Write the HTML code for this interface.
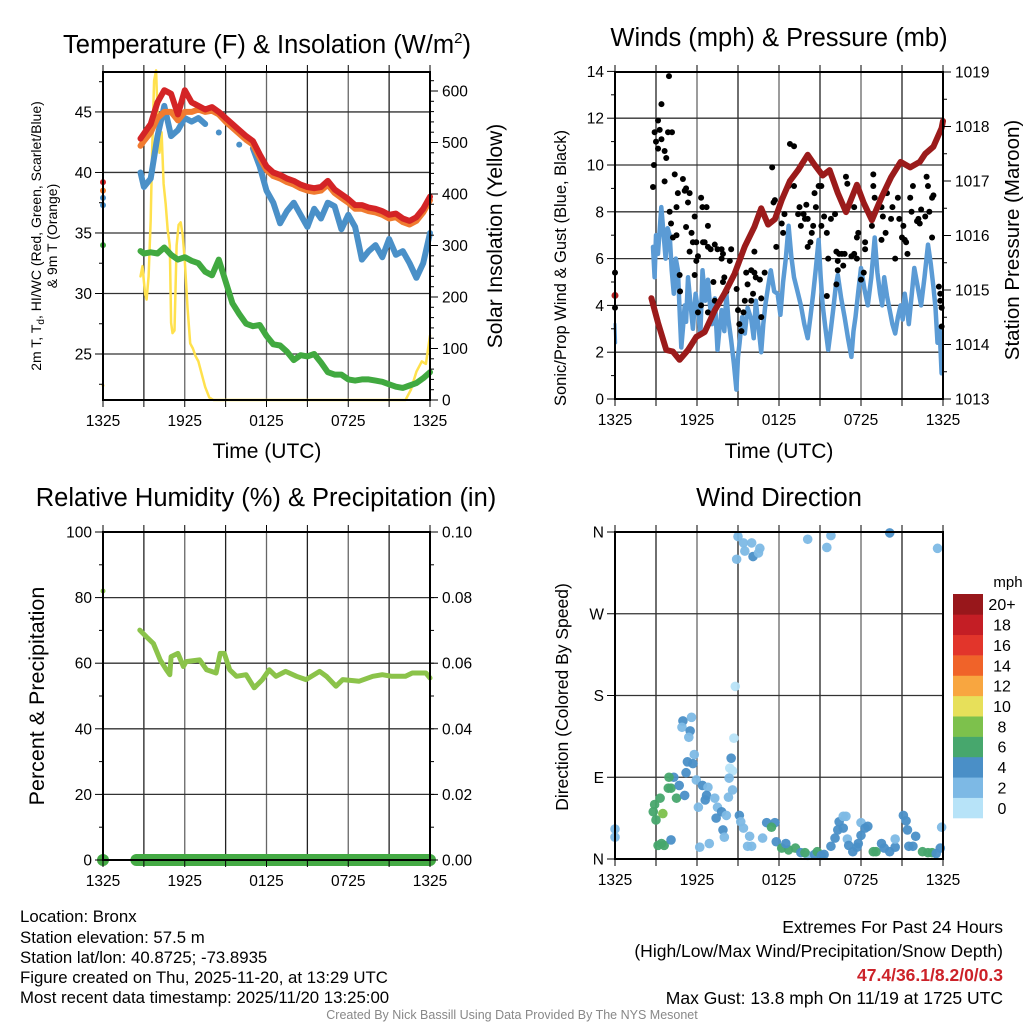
<!DOCTYPE html>
<html><head><meta charset="utf-8">
<style>
html,body{margin:0;padding:0;background:#fff;}
svg{display:block;font-family:"Liberation Sans",Arial,sans-serif;}
</style></head>
<body>
<svg id="chart" width="1024" height="1024" viewBox="0 0 1024 1024" xmlns="http://www.w3.org/2000/svg">
<rect width="1024" height="1024" fill="#fff"/>
<g id="grids"></g>
<g id="marks"></g>
<g id="axes"></g>
<g id="labels" fill="#000">
<text x="267" y="53" font-size="25.5" text-anchor="middle">Temperature (F) &amp; Insolation (W/m<tspan font-size="15" dy="-10">2</tspan><tspan dy="10">)</tspan></text>
<text x="779" y="46" font-size="25.5" text-anchor="middle">Winds (mph) &amp; Pressure (mb)</text>
<text x="266" y="506" font-size="25.5" text-anchor="middle">Relative Humidity (%) &amp; Precipitation (in)</text>
<text x="779" y="506" font-size="25.5" text-anchor="middle">Wind Direction</text>
<text x="267" y="458" font-size="21" text-anchor="middle">Time (UTC)</text>
<text x="779" y="458" font-size="21" text-anchor="middle">Time (UTC)</text>
<g font-size="14" text-anchor="middle">
<text transform="translate(41,236) rotate(-90)">2m T, T<tspan font-size="10" dy="3">d</tspan><tspan dy="-3">, HI/WC (Red, Green, Scarlet/Blue)</tspan></text>
<text transform="translate(57,236) rotate(-90)">&amp; 9m T (Orange)</text>
</g>
<text transform="translate(502,236) rotate(-90)" font-size="21" text-anchor="middle">Solar Insolation (Yellow)</text>
<text transform="translate(566,268) rotate(-90)" font-size="16.5" text-anchor="middle">Sonic/Prop Wind &amp; Gust (Blue, Black)</text>
<text transform="translate(1019,240) rotate(-90)" font-size="20.5" text-anchor="middle">Station Pressure (Maroon)</text>
<text transform="translate(44,696) rotate(-90)" font-size="21.5" text-anchor="middle">Percent &amp; Precipitation</text>
<text transform="translate(568,697) rotate(-90)" font-size="17.5" text-anchor="middle">Direction (Colored By Speed)</text>
<text x="1008" y="587" font-size="15" text-anchor="middle">mph</text>
<g font-size="16.8">
<text x="20" y="922">Location: Bronx</text>
<text x="20" y="943">Station elevation: 57.5 m</text>
<text x="20" y="963">Station lat/lon: 40.8725; -73.8935</text>
<text x="20" y="983">Figure created on Thu, 2025-11-20, at 13:29 UTC</text>
<text x="20" y="1003">Most recent data timestamp: 2025/11/20 13:25:00</text>
</g>
<g font-size="17.5" text-anchor="end">
<text x="1003" y="933">Extremes For Past 24 Hours</text>
<text x="1003" y="957">(High/Low/Max Wind/Precipitation/Snow Depth)</text>
<text x="1003" y="981" fill="#cc2229" font-weight="bold">47.4/36.1/8.2/0/0.3</text>
<text x="1003" y="1004">Max Gust: 13.8 mph On 11/19 at 1725 UTC</text>
</g>
<text x="512" y="1019" font-size="12.5" fill="#888" text-anchor="middle">Created By Nick Bassill Using Data Provided By The NYS Mesonet</text>
</g>
</svg>
<script>
// ---- data ----
const xTickLabels = ["1325","1925","0125","0725","1325"];
const tempTicks = [25,30,35,40,45];
const solarTicks = [0,100,200,300,400,500,600];
const windTicks = [0,2,4,6,8,10,12,14];
const presTicks = [1013,1014,1015,1016,1017,1018,1019];
const rhTicks = [0,20,40,60,80,100];
const precipTicks = ["0.00","0.02","0.04","0.06","0.08","0.10"];
const dirTickLabels = ["N","E","S","W","N"];
const cbLabels = ["0","2","4","6","8","10","12","14","16","18","20+"];
const cbColors = ["#b7e3f8","#7db9e5","#4a8fc7","#47a76d","#7dc14c","#e7e05a","#f8a640","#f06329","#e2352b","#c41e25","#98171b"];

const tT = [2.75,3,3.5,4,4.5,5,5.5,6,6.5,7,7.5,8,8.5,9,9.5,10,10.5,11,11.5,12,12.5,13,13.5,14,14.5,15,15.5,16,16.5,17,17.5,18,18.5,19,19.5,20,20.5,21,21.5,22,22.5,23,23.5,24];
const tempRed = [42.8,43.2,44,45.8,46.8,46.5,44.8,46.8,45.8,45.5,45.2,45.4,45,44.5,44,43.5,43,42.6,41.5,40.5,40,39.8,39.5,39.3,39,38.8,38.7,38.8,39.3,38.6,38.2,37.8,37.3,37.3,37.1,37,36.8,36.5,36.6,36.2,36,36.3,37,38];
const tempOrange = [42.2,42.6,43.3,44.5,45,45,44.3,45,45,45.2,45,45.1,44.8,44.2,43.7,43.2,42.7,42.3,41.2,40.2,39.7,39.5,39.2,39,38.7,38.5,38.4,38.5,39,38.3,37.9,37.5,37,37,36.8,36.7,36.5,36.2,36.3,35.9,35.7,36,36.7,37.7];
const tempBlue = [40,38.8,39.5,43,45.5,43,43.5,44.5,44.2,44.5,44,null,43.3,null,null,42.3,null,42,40.5,38.5,37.5,35.8,36.8,37.5,36.5,35.5,37,36.2,37.5,37.2,35.3,36.5,35.5,32.8,33.5,34,33,34.5,33.2,33.5,32.5,31.3,32.5,35];
const tempGreen = [33.5,33.3,33.4,33.3,33.8,33.2,32.8,33,32.7,32.5,31.8,31.5,32.8,31,29.2,28.3,27.5,27.3,27.4,26.5,25.8,25.7,25.2,24.5,24.9,24.8,25,24.3,23.5,23.3,23.3,22.9,22.8,22.9,22.9,22.8,22.7,22.5,22.3,22.2,22.4,22.6,23,23.5];
const tempStart = {red:39.2, orange:38.5, blue:37.3, green:34};
const solT = [2.75,2.9,3.0,3.1,3.2,3.35,3.5,3.6,3.75,3.9,4.0,4.15,4.3,4.45,4.6,4.75,4.9,5.0,5.1,5.25,5.4,5.55,5.7,5.85,6.0,6.2,6.4,6.6,6.8,7.0,7.2,7.5,7.8,8.1,22.2,22.6,23,23.4,23.7,24];
const solV = [240,260,230,205,195,240,350,480,620,640,560,480,520,420,380,330,300,150,130,135,300,340,345,320,270,180,110,100,85,75,55,25,5,0,0,20,55,75,70,125];

const windT = [2.78,2.9,3.0,3.15,3.39,3.55,3.7,3.85,4.0,4.15,4.3,4.45,4.6,4.75,4.85,5.0,5.1,5.2,5.34,5.5,5.7,5.9,6.07,6.25,6.4,6.6,6.8,6.95,7.1,7.3,7.5,7.65,7.8,8.0,8.15,8.3,8.5,8.7,8.88,9.0,9.12,9.3,9.5,9.7,9.97,10.15,10.3,10.5,10.7,10.85,11.0,11.2,11.4,11.65,11.9,12.1,12.3,12.5,12.7,12.9,13.1,13.35,13.6,13.85,14.1,14.3,14.5,14.7,14.9,15.05,15.2,15.4,15.6,15.8,16.0,16.15,16.3,16.55,16.8,17.05,17.3,17.45,17.6,17.8,18.0,18.25,18.5,18.75,19.0,19.2,19.4,19.55,19.7,19.9,20.1,20.3,20.5,20.7,20.9,21.05,21.2,21.35,21.5,21.7,21.9,22.15,22.4,22.65,22.9,23.1,23.3,23.45,23.6,23.75,23.9];
const windV = [6.5,5.2,7.0,6.2,8.2,7.1,6.0,7.3,7.0,5.5,4.5,6.0,5.5,3.5,2.2,3.2,4.0,3.3,5.2,4.2,3.0,4.5,3.8,2.8,5.5,4.2,5.1,4.0,3.2,4.3,2.1,3.0,3.8,2.9,4.5,3.4,2.5,1.5,0.4,1.8,2.4,3.5,2.8,3.9,3.4,2.6,4.2,3.1,2.0,3.2,4.0,4.8,5.5,4.6,4.5,3.6,5.0,6.0,7.4,6.1,5.2,4.6,4.0,3.2,2.6,3.5,4.5,5.6,6.8,5.2,4.0,3.0,2.1,3.0,4.0,4.8,5.3,4.3,3.5,2.6,1.8,2.9,3.5,4.6,5.6,4.7,4.0,5.2,6.9,5.4,4.5,4.0,5.2,4.4,3.8,3.2,2.8,3.5,4.0,3.4,4.5,3.9,3.2,4.4,5.6,4.8,4.0,5.2,6.6,5.8,4.8,3.9,2.4,3.0,1.1];
const windStart = [3.2,2.4];
const gustT = [0,0,2.78,2.85,2.9,3.0,3.15,3.27,3.15,3.4,3.4,3.63,3.75,3.88,3.95,4.17,3.63,4.37,4.0,4.1,4.5,4.6,4.97,5.1,5.2,5.46,5.34,4.24,4.5,5.2,5.6,5.46,5.7,5.83,6.3,6.4,6.7,6.8,5.95,6.07,5.95,6.44,6.56,6.8,7.0,7.3,7.5,7.8,7.9,7.8,8.5,8.4,7.2,7.3,8.0,7.9,5.83,4.73,4.76,6.07,6.3,6.8,8.15,8.9,9.0,9.1,9.25,9.4,9.5,9.6,9.7,9.97,10.2,10.1,9.97,10.7,10.7,10.95,10.3,10.6,10.2,11.5,11.6,11.7,11.8,12.2,12.3,12.4,12.8,13.1,12.7,13.1,13.4,13.5,13.6,13.8,13.9,14.0,14.1,14.3,14.1,14.4,14.5,14.6,14.7,14.9,15.1,15.1,15.3,15.5,15.6,15.8,16.1,16.2,16.3,16.4,16.6,16.8,16.7,16.3,16.2,15.5,16.9,17.0,17.5,17.5,17.3,17.7,17.8,17.7,18.3,18.2,18.0,18.3,18.9,18.9,19.0,18.8,19.5,19.6,19.8,19.5,19.9,20.3,20.2,20.5,20.7,20.8,21.0,21.1,21.2,21.3,21.4,21.6,21.7,21.8,22.1,22.2,22.3,22.4,22.7,22.8,22.9,23.0,23.2,23.3,23.2,23.7,23.8,23.9,23.9,23.8];
const gustV = [5.4,3.9,9.06,10.0,11.4,11.0,11.9,11.5,10.7,11.1,12.6,10.6,10.3,11.4,13.8,11.4,9.3,9.6,8.0,7.5,8.2,8.8,9.4,8.9,9.0,8.8,8.4,6.9,7.0,7.35,7.1,6.3,6.7,7.8,8.6,8.2,8.2,7.4,6.7,6.1,5.9,6.7,6.7,6.5,6.4,6.6,6.4,6.4,6.2,6.0,6.4,5.9,5.0,4.2,5.2,5.0,5.3,5.3,4.6,3.7,4.0,3.7,4.6,4.7,3.8,3.2,2.9,3.7,4.2,5.4,4.9,5.5,5.4,4.5,4.2,4.3,3.5,5.4,5.2,5.1,6.3,9.9,8.4,8.5,6.5,7.5,7.1,7.9,10.9,10.8,9.1,9.1,7.9,8.2,7.4,7.9,7.7,8.3,7.7,6.7,6.5,7.1,7.4,8.8,8.2,9.1,9.1,7.4,7.8,7.1,6.0,7.7,7.9,6.3,5.9,6.2,6.2,6.2,5.7,5.5,4.9,4.4,9.5,9.2,8.2,6.2,6.1,6.0,7.1,6.9,6.7,5.4,5.1,6.4,9.6,9.1,8.6,7.4,8.2,7.8,7.1,6.8,8.8,8.2,7.7,6.0,8.6,7.7,6.9,7.4,6.8,6.7,6.2,8.6,8.0,9.1,7.6,7.7,7.5,8.1,7.8,9.5,9.1,8.0,8.6,8.7,6.9,4.8,4.2,3.9,3.1,4.5];
const presT = [2.66,3.15,3.75,4.24,4.73,5.34,5.95,6.56,7.3,8.02,8.75,9.5,10.2,10.7,11.2,11.7,12.2,12.8,13.4,14.1,14.6,15.2,15.7,16.3,16.9,17.7,18.2,18.8,19.5,20.2,20.9,21.6,22.3,22.7,23.3,23.9,24];
const presV = [1014.85,1014.4,1013.9,1013.87,1013.72,1013.9,1014.14,1014.23,1014.63,1014.94,1015.3,1015.8,1016.16,1016.5,1016.2,1016.3,1016.65,1017.0,1017.2,1017.48,1017.3,1017.1,1017.2,1016.78,1016.43,1016.93,1016.6,1016.28,1016.7,1017.07,1017.35,1017.25,1017.35,1017.5,1017.63,1017.97,1018.1];
const presStart = 1014.9;

const rhT = [2.7,3.2,3.7,4.2,4.65,4.9,5.0,5.5,5.9,6.1,7.1,7.6,8.3,8.6,8.9,9.3,9.8,10.5,11.1,11.7,12.2,12.7,13.4,14.2,14.9,15.9,16.4,17.1,17.6,18.8,19.8,20.5,21.2,22.2,22.7,23.7,24];
const rhV = [70.1,68,66,61,58,56.5,62,63,59,60.5,61,58,57,63,63,58,56,56.5,52.5,55,58,56,57.5,56,55,57.5,56,53,55,54.5,56,56.5,56,56,57,57,55.5];
const rhStart = 82;
const precipStartT = 2.45;
const precipV = 0;

const dirT = [0.0,0.0,9.0,8.9,9.4,9.5,10.0,10.1,10.5,10.6,14.1,15.5,15.8,20.1,23.6,8.8,8.7,8.6,5.6,4.97,4.9,5.5,5.4,5.8,5.3,5.7,5.2,4.3,3.95,3.9,4.1,4.7,4.5,5.1,3.3,2.9,2.8,3.5,3.0,3.15,3.4,3.6,4.1,5.95,6.4,6.8,6.7,6.6,6.1,7.3,7.5,7.8,7.4,8.15,7.9,8.0,6.2,6.9,8.35,8.6,8.3,8.5,8.4,9.1,9.2,9.4,9.85,9.7,10.0,10.8,11.1,11.7,11.45,11.8,12.2,12.7,13.2,12.5,13.6,14.1,14.6,13.9,14.8,15.1,15.3,15.8,16.1,16.3,16.4,16.7,16.9,16.7,17.0,17.1,17.4,17.7,17.8,18.0,18.3,18.5,18.0,18.9,19.1,19.5,19.7,20.1,20.5,20.5,21.1,21.3,21.4,21.5,21.8,22.0,22.5,22.9,23.2,23.5,23.8,23.9];
const dirV = [33,24,355,330,348,339,348,333,337,342,352,343,356,359,342,190,133,97,156,152,145,141,134,115,107,105,95,90,90,78,78,81,67,70,67,60,52,50,43,15,17,15,21,87,81,79,70,65,57,67,57,52,45,48,32,24,13,17,89,76,68,111,100,48,41,34,25,14,14,23,40,40,35,19,12,10,12,17,7,4,5,7,8,4,5,14,23,32,41,47,47,34,22,15,8,13,17,40,34,36,26,8,8,17,12,8,13,22,48,42,32,14,14,25,8,7,7,6,12,35];
const dirSpd = [3,3,3,3,3,3,3,5,3,3,3,3,3,5,3,1,1,1,3,5,3,5,3,3,5,5,5,5,7,7,7,5,7,5,7,7,7,9,7,7,7,7,5,3,5,3,5,5,3,3,3,5,5,3,5,3,3,3,3,3,3,5,1,5,3,3,3,3,3,3,5,5,7,5,7,7,7,5,5,3,5,7,7,5,5,5,5,5,5,3,3,5,3,5,5,5,5,3,5,5,5,7,7,5,5,5,5,3,5,5,5,5,5,5,7,7,7,5,5,3];

// ---- geometry ----
const NS = "http://www.w3.org/2000/svg";
const P = {
  temp:{l:103,r:430,t:72,b:400},
  wind:{l:615,r:943,t:72,b:399},
  rh:{l:103,r:430,t:532,b:860},
  dir:{l:615,r:943,t:532,b:859}
};
function sx(p,t){return p.l+(p.r-p.l)*t/24;}
function lin(p,v,lo,hi){return p.b-(p.b-p.t)*(v-lo)/(hi-lo);}
const TEMP_LO=21.2, TEMP_HI=48.3, SOL_LO=0, SOL_HI=(400-72)/0.515;
const W_LO=0, W_HI=(399-72)/23.4, PR_LO=1013, PR_HI=1019;
const yT=v=>lin(P.temp,v,TEMP_LO,TEMP_HI);
const yS=v=>lin(P.temp,v,SOL_LO,SOL_HI);
const yW=v=>lin(P.wind,v,W_LO,W_HI);
const yP=v=>lin(P.wind,v,PR_LO,PR_HI);
const yR=v=>lin(P.rh,v,0,100);
const yD=v=>lin(P.dir,v,0,360);

function el(parent,tag,attrs){const e=document.createElementNS(NS,tag);for(const k in attrs)e.setAttribute(k,attrs[k]);parent.appendChild(e);return e;}
const G=document.getElementById('grids'),M=document.getElementById('marks'),A=document.getElementById('axes');

function lineSeries(p,ts,vs,yf,color,w,name){
  let segs=[],cur=[];
  for(let i=0;i<ts.length;i++){
    if(vs[i]===null||vs[i]===undefined){if(cur.length)segs.push(cur);cur=[];continue;}
    cur.push([sx(p,ts[i]),yf(vs[i])]);
  }
  if(cur.length)segs.push(cur);
  const g=el(M,'g',{});
  
  
  segs.forEach(s=>{
    if(s.length===1){
      const c=el(g,'circle',{cx:s[0][0],cy:s[0][1],r:w/2,fill:color});
      
      
    } else {
      const path=el(g,'path',{d:'M'+s.map(q=>q[0].toFixed(1)+','+q[1].toFixed(1)).join('L'),fill:'none',stroke:color,'stroke-width':w,'stroke-linejoin':'round','stroke-linecap':'round'});
      
      
    }
  });
}
function dot(p,t,v,yf,r,color,name){
  const c=el(M,'circle',{cx:sx(p,t),cy:yf(v),r:r,fill:color});
  
  
}
function frame(p,name,leftTicks,leftFmt,yLeft,rightTicks,rightFmt,yRight,leftMinor,rightMinor){
  for(let h=3;h<24;h+=3){
    const x=sx(p,h);
    el(G,'line',{x1:x,y1:p.t,x2:x,y2:p.b,stroke:(h%6===0)?'#666':'#222','stroke-width':1.3});
  }
  leftTicks.forEach(v=>{const y=yLeft(v);if(y>p.t+1&&y<p.b-1)el(G,'line',{x1:p.l,y1:y,x2:p.r,y2:y,stroke:'#333','stroke-width':1.3});});
  const f=el(A,'rect',{x:p.l,y:p.t,width:p.r-p.l,height:p.b-p.t,fill:'none',stroke:'#000','stroke-width':2});
  
  
  for(let h=0;h<=24;h+=3){
    const x=sx(p,h);
    el(A,'line',{x1:x,y1:p.b,x2:x,y2:p.b+7,stroke:'#000','stroke-width':1});
    el(A,'line',{x1:x,y1:p.t,x2:x,y2:p.t-7,stroke:'#000','stroke-width':1});
  }
  xTickLabels.forEach((lab,i)=>{
    const t=el(A,'text',{x:sx(p,i*6),y:p.b+26,'font-size':15.5,'text-anchor':'middle'});
    t.textContent=lab;
    
    
  });
  leftTicks.forEach(v=>{
    const y=yLeft(v);
    el(A,'line',{x1:p.l-8,y1:y,x2:p.l,y2:y,stroke:'#000','stroke-width':1});
    const t=el(A,'text',{x:p.l-11,y:y+5.5,'font-size':15.5,'text-anchor':'end'});
    t.textContent=leftFmt(v);
    
    
  });
  leftMinor.forEach(v=>{const y=yLeft(v);if(y>p.t&&y<p.b)el(A,'line',{x1:p.l-4,y1:y,x2:p.l,y2:y,stroke:'#000','stroke-width':1});});
  rightTicks.forEach((v,i)=>{
    const y=yRight(v);
    el(A,'line',{x1:p.r,y1:y,x2:p.r+8,y2:y,stroke:'#000','stroke-width':1});
    const t=el(A,'text',{x:p.r+12,y:y+5.5,'font-size':15.5,'text-anchor':'start'});
    t.textContent=rightFmt(v,i);
    
    
  });
  rightMinor.forEach(v=>{const y=yRight(v);if(y>p.t&&y<p.b)el(A,'line',{x1:p.r,y1:y,x2:p.r+4,y2:y,stroke:'#000','stroke-width':1});});
}
function range(a,b,s){const o=[];for(let v=a;v<=b+1e-9;v+=s)o.push(+v.toFixed(4));return o;}

// Panel 1
frame(P.temp,'temp-panel',tempTicks,v=>v,yT,solarTicks,v=>v,yS,range(22.5,47.5,5),range(20,640,20));
lineSeries(P.temp,solT,solV,yS,'#ffe14d',2.5,'solar-insolation');
lineSeries(P.temp,tT,tempGreen,yT,'#41a940',6,'dewpoint');
lineSeries(P.temp,tT,tempBlue,yT,'#4a90c8',6,'wind-chill');
lineSeries(P.temp,tT,tempOrange,yT,'#f07b30',6,'temperature-9m');
lineSeries(P.temp,tT,tempRed,yT,'#d42426',6,'temperature-2m');
dot(P.temp,0,tempStart.green,yT,3,'#41a940','dewpoint-start');
dot(P.temp,0,tempStart.blue,yT,3,'#4a90c8','wind-chill-start');
dot(P.temp,0,tempStart.blue+0.6,yT,3,'#4a90c8','wind-chill-start-2');
dot(P.temp,0,tempStart.orange,yT,3,'#f07b30','temperature-9m-start');
dot(P.temp,0,tempStart.red,yT,3,'#d42426','temperature-2m-start');
dot(P.temp,0,22.4,yT,1.5,'#ffe14d','solar-start');

// Panel 2
frame(P.wind,'wind-panel',windTicks,v=>v,yW,presTicks,v=>v,yP,range(1,13,2),range(1013.5,1018.5,1));
lineSeries(P.wind,windT,windV,yW,'#5b9bd5',4.5,'wind-speed');
lineSeries(P.wind,[0,0.05],windStart,yW,'#5b9bd5',3,'wind-speed-start');
gustT.forEach((t,i)=>dot(P.wind,t,gustV[i],yW,3,'#000','gust-point'));
lineSeries(P.wind,presT,presV,yP,'#9b1b1b',6,'station-pressure');
dot(P.wind,0,presStart,yP,3.5,'#b22222','pressure-start');

// Panel 3
frame(P.rh,'rh-panel',rhTicks,v=>v,yR,[0,20,40,60,80,100],(v,i)=>precipTicks[i],yR,range(10,90,20),range(10,90,10));
lineSeries(P.rh,rhT,rhV,yR,'#8bc34a',5,'relative-humidity');
dot(P.rh,0,rhStart,yR,2.5,'#8bc34a','rh-start');
lineSeries(P.rh,[precipStartT,24],[precipV,precipV],yR,'#44aa44',12,'precipitation');
dot(P.rh,0,precipV,yR,6,'#44aa44','precip-start');

// Panel 4
frame(P.dir,'dir-panel',[0,90,180,270,360],(v)=>dirTickLabels[v/90],yD,[],v=>'',yD,[],[]);
dirT.forEach((t,i)=>{
  const idx=Math.min(10,Math.floor(dirSpd[i]/2));
  const c=el(M,'circle',{cx:sx(P.dir,t),cy:yD(dirV[i]),r:4.8,fill:cbColors[idx],'fill-opacity':0.95});
  
  
});
// colorbar
const cb={x:953,w:30,top:594,bot:818};
const bh=(cb.bot-cb.top)/cbColors.length;
cbColors.forEach((col,i)=>{
  const y=cb.bot-(i+1)*bh;
  const r=el(A,'rect',{x:cb.x,y:y,width:cb.w,height:bh+0.3,fill:col});
  
  
  const t=el(A,'text',{x:1002,y:y+bh/2+6,'font-size':16,'text-anchor':'middle'});
  t.textContent=cbLabels[i];
  
  
});
</script>
</body></html>
